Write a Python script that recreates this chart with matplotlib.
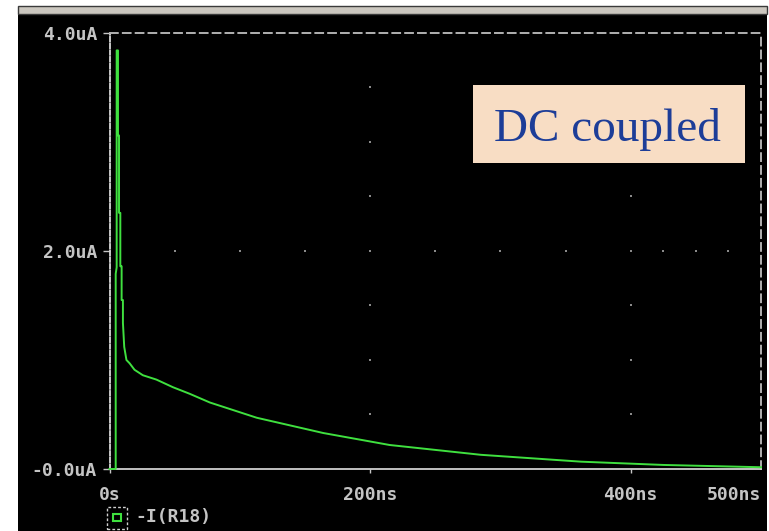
import matplotlib
matplotlib.use('Agg')
import matplotlib.pyplot as plt
from matplotlib.patches import Rectangle

# transient current through R18
time_ns = [0, 4.75, 4.75, 5.5, 5.5, 6.5, 6.5, 7.3, 7.3, 8.3, 8.3, 9.3, 9.3,
           10.3, 10.3, 11.3, 13.0, 15.4, 19.2, 25.6, 36, 48.7, 61.5, 77,
           113, 164, 215, 285, 362, 425, 500]
current_ua = [0, 0, 1.79, 1.85, 3.84, 3.84, 3.06, 3.06, 2.35, 2.35, 1.86, 1.86,
              1.55, 1.55, 1.34, 1.12, 1.0, 0.97, 0.91, 0.86, 0.82, 0.75, 0.69,
              0.61, 0.47, 0.33, 0.22, 0.13, 0.067, 0.037, 0.016]

x_ticks = [0, 200, 400, 500]
x_labels = ['0s', '200ns', '400ns', '500ns']
y_ticks = [0, 2, 4]
y_labels = ['-0.0uA', '2.0uA', '4.0uA']

# dotted grid marks that PSpice draws
grid_cols = [200, 400]
grid_col_levels = [0.5, 1.0, 1.5, 2.0, 2.5, 3.0, 3.5]
grid_row_level = 2.0
grid_row_times = [50, 100, 150, 200, 250, 300, 350, 400, 425, 450, 475]

fg = '#c4c4c4'
green = '#3fe03f'
mono = 'DejaVu Sans Mono'

fig = plt.figure(figsize=(7.69, 5.31), dpi=100)
fig.patch.set_facecolor('white')

# black window and its grey title bar
fig.add_artist(Rectangle((0.024, 0), 0.973, 0.9736, transform=fig.transFigure,
                         facecolor='black', edgecolor='none', zorder=0))
fig.add_artist(Rectangle((0.024, 0.9736), 0.973, 0.016, transform=fig.transFigure,
                         facecolor='#cbc7bf', edgecolor='#3a3a3a', lw=1, zorder=1))

ax = fig.add_axes([0.1424, 0.1168, 0.8472, 0.8211])
ax.set_facecolor('none')
ax.set_xlim(0, 500)
ax.set_ylim(0, 4)

ax.plot(time_ns, current_ua, color=green, lw=1.4, zorder=3, clip_on=False)

# grid dots
for c in grid_cols:
    ax.scatter([c] * len(grid_col_levels), grid_col_levels, s=2, marker='s',
               color='#8a8a8a', lw=0, zorder=2)
ax.scatter(grid_row_times, [grid_row_level] * len(grid_row_times), s=2, marker='s',
           color='#8a8a8a', lw=0, zorder=2)

for side in ['top', 'right']:
    ax.spines[side].set_color('#b0b0b0')
    ax.spines[side].set_linewidth(1.4)
    ax.spines[side].set_linestyle((0, (4, 2.6)))
ax.spines['left'].set_color('#d8d8d8')
ax.spines['left'].set_linewidth(1.3)
ax.spines['left'].set_linestyle((0, (2.5, 1.2)))
ax.spines['bottom'].set_color('#d0d0d0')
ax.spines['bottom'].set_linewidth(1.3)
ax.spines['bottom'].set_linestyle((0, (2.5, 1.0, 0.8, 1.0)))

ax.set_xticks(x_ticks)
ax.set_xticklabels(x_labels)
ax.set_yticks(y_ticks)
ax.set_yticklabels(y_labels)
ax.tick_params(axis='x', direction='out', length=3, width=1, color=fg, pad=9,
               labelcolor=fg, labelsize=13)
ax.tick_params(axis='y', direction='out', length=5, width=1, color=fg, pad=4,
               labelcolor=fg, labelsize=13)
for lab in ax.get_xticklabels() + ax.get_yticklabels():
    lab.set_family(mono)
    lab.set_fontweight('bold')
ax.get_xticklabels()[-1].set_horizontalalignment('right')
ax.get_xticklabels()[-1].set_x(500)
ax.xaxis.get_major_ticks()[-1].tick1line.set_visible(False)

# legend entry below the axis
fig.add_artist(Rectangle((0.1387, 0.004), 0.026, 0.0414, transform=fig.transFigure,
                         facecolor='none', edgecolor='#d0d0d0', lw=1,
                         linestyle=(0, (2, 1.5))))
fig.add_artist(Rectangle((0.147, 0.0188), 0.0098, 0.0132, transform=fig.transFigure,
                         facecolor='none', edgecolor=green, lw=1.5))
fig.text(0.1755, 0.0269, '-I(R18)', color=fg, family=mono, fontweight='bold',
         fontsize=13, va='center', ha='left')

# annotation box
fig.add_artist(Rectangle((0.6151, 0.693), 0.3537, 0.147, transform=fig.transFigure,
                         facecolor='#f8ddc4', edgecolor='none', zorder=4))
fig.text(0.790, 0.7345, 'DC coupled', color='#1d3d98', family='Liberation Serif',
         fontsize=34, ha='center', va='baseline', zorder=5)

plt.savefig('out.png', dpi=100)
plt.close()
